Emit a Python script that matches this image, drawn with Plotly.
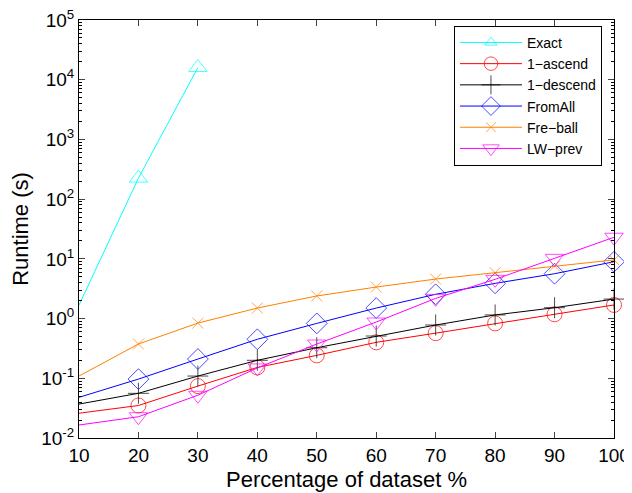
import plotly.graph_objects as go

x_pct = [10, 20, 30, 40, 50, 60, 70, 80, 90, 100]
exact_x = [10, 20, 30]
exact = [1.68, 225, 16000]
one_ascend = [0.026, 0.035, 0.074, 0.152, 0.242, 0.40, 0.57, 0.83, 1.18, 1.69]
one_descend = [0.037, 0.056, 0.109, 0.20, 0.325, 0.51, 0.78, 1.15, 1.52, 2.12]
from_all = [0.048, 0.097, 0.21, 0.45, 0.83, 1.50, 2.55, 3.89, 5.64, 8.95]
fre_ball = [0.109, 0.375, 0.84, 1.50, 2.39, 3.37, 4.59, 5.86, 7.6, 9.6]
lw_prev = [0.0165, 0.0227, 0.052, 0.149, 0.375, 0.875, 2.18, 4.54, 10.2, 23.0]

series = [
    ("Exact", exact_x, exact, "#00FFFF", "triangle-up-open", 16),
    ("1\u2212ascend", x_pct, one_ascend, "#FF0000", "circle-open", 15),
    ("1\u2212descend", x_pct, one_descend, "#000000", "cross-thin-open", 15),
    ("FromAll", x_pct, from_all, "#0000FF", "diamond-open", 16),
    ("Fre\u2212ball", x_pct, fre_ball, "#FF8000", "x-thin-open", 11),
    ("LW\u2212prev", x_pct, lw_prev, "#FF00FF", "triangle-down-open", 16),
]

fig = go.Figure()
for name, xs, ys, col, sym, sz in series:
    sizes = [0 if xv == 10 else sz for xv in xs]
    fig.add_trace(go.Scatter(
        x=xs, y=ys, name=name, mode="lines+markers",
        line=dict(color=col, width=1),
        marker=dict(symbol=sym, size=sizes, color=col, line=dict(color=col, width=1)),
        cliponaxis=False,
    ))

ytickvals = [10.0 ** k for k in range(-2, 6)]
yticktext = ["10<sup>%d</sup>" % k for k in range(-2, 6)]
yminor = [m * 10.0 ** k for k in range(-2, 5) for m in range(2, 10)]

# page body adds an 8px offset, so the figure is sized to fit the window
fig.update_layout(
    width=624, height=485,
    margin=dict(l=71, r=18, t=12, b=55),
    paper_bgcolor="white", plot_bgcolor="white",
    font=dict(family="Liberation Sans, Arial, sans-serif", color="black", size=16),
    showlegend=True,
    legend=dict(
        x=0.9775, y=0.986, xanchor="right", yanchor="top",
        bordercolor="black", borderwidth=1, bgcolor="white",
        font=dict(size=14), tracegroupgap=0, itemwidth=62,
    ),
    xaxis=dict(
        range=[10, 100], tickvals=x_pct, ticks="inside", ticklen=6,
        showline=True, linecolor="black", linewidth=1, mirror="ticks",
        showgrid=False, zeroline=False, tickfont=dict(size=19), automargin=False,
        ticklabeloverflow="allow",
        title=dict(text="Percentage of dataset %", font=dict(size=22), standoff=6),
    ),
    yaxis=dict(
        type="log", range=[-2, 5], tickvals=ytickvals, ticktext=yticktext,
        ticks="inside", ticklen=6,
        minor=dict(tickvals=yminor, ticks="inside", ticklen=3, tickcolor="black"),
        showline=True, linecolor="black", linewidth=1, mirror="ticks",
        showgrid=False, zeroline=False, tickfont=dict(size=19), automargin=False,
        ticklabeloverflow="allow",
        title=dict(text="Runtime (s)", font=dict(size=22), standoff=10),
    ),
)

fig.write_html("out.html")
